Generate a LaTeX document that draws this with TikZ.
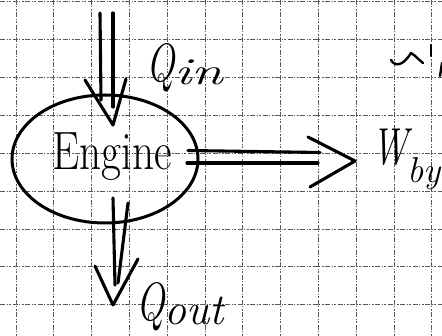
\documentclass[tikz,border=0pt]{standalone}
\usetikzlibrary{shapes.geometric}
\tikzset{
  gridline/.style={black!65, line width=0.7pt, dash pattern=on 5pt off 1.5pt on 1pt off 1.5pt on 2pt off 1.5pt},
  pen/.style={black, line width=3.1pt, line cap=round, line join=round},
  hand/.style={inner sep=0pt, text=black, anchor=base west}
}
\begin{document}
\begin{tikzpicture}[x=1pt,y=-1pt]
\useasboundingbox (0,0) rectangle (442,336);
\fill[white] (0,0) rectangle (442,336);
% grid
\foreach \i in {0,...,11} {\draw[gridline] ({16+37.8*\i},0) -- ({16+37.8*\i},336);}
\foreach \j in {0,...,8} {\draw[gridline] (0,{1.5+37.9*\j}) -- (442,{1.5+37.9*\j});}
% engine
\node[draw, ellipse, line width=3pt, minimum width=186pt, minimum height=128pt, inner sep=0pt] (engine) at (105,159) {};
\node[hand] (enginetext) at (52,170) {\scalebox{0.8}[1]{\fontsize{54}{54}\selectfont Engine}};
% labels
\node[hand] (qin) at (146,82) {\scalebox{0.7}[1]{\fontsize{54}{54}\selectfont\itshape Q}\raisebox{-3pt}{\scalebox{1.5}[1]{\fontsize{38}{38}\selectfont\itshape in}}};
\node[hand] (wby) at (372,165) {\scalebox{0.7}[1]{\fontsize{52}{52}\selectfont\itshape W}\raisebox{-18pt}{\fontsize{36}{36}\selectfont\itshape by}};
\node[hand] (qout) at (136,321) {\scalebox{0.7}[1]{\fontsize{54}{54}\selectfont\itshape Q}\raisebox{-4pt}{\fontsize{44}{44}\selectfont\itshape out}};
% Q_in arrow
\coordinate (qa1) at (100,13); \coordinate (qa2) at (101,100);
\coordinate (qb1) at (113,13); \coordinate (qb2) at (113,107);
\coordinate (qhl) at (85,80); \coordinate (qtip) at (113,125); \coordinate (qhr) at (126,79);
\draw[pen] (qa1) -- (qa2);
\draw[pen] (qb1) -- (qb2);
\draw[pen] (qhl) -- (qtip) -- (qhr);
% W_by arrow
\coordinate (wa1) at (188,150.5); \coordinate (wa2) at (320,152.5);
\coordinate (wb1) at (187,163); \coordinate (wb2) at (318,163);
\coordinate (whl) at (308,137); \coordinate (wtip) at (355,161); \coordinate (whr) at (310,187);
\draw[pen] (wa1) -- (wa2);
\draw[pen] (wb1) -- (wb2);
\draw[pen] (whl) -- (wtip) -- (whr);
% Q_out arrow
\coordinate (oa1) at (113,198); \coordinate (oa2) at (115,285);
\coordinate (ob1) at (128,203); \coordinate (ob2) at (118,283);
\coordinate (ohl) at (95,266); \coordinate (otip) at (113,305); \coordinate (ohr) at (138,259);
\draw[pen] (oa1) -- (oa2);
\draw[pen] (ob1) -- (ob2);
\draw[pen] (ohl) -- (otip) -- (ohr);
% scribble at top right
\draw[pen, line width=2.4pt] (391,60) .. controls (395,67) and (403,66) .. (411,53) .. controls (416,56) and (419,60) .. (423,63);
\draw[pen, line width=2.4pt] (431,45) -- (431,56);
\draw[pen, line width=2.4pt] (442,63) -- (440,76);
\end{tikzpicture}
\end{document}
